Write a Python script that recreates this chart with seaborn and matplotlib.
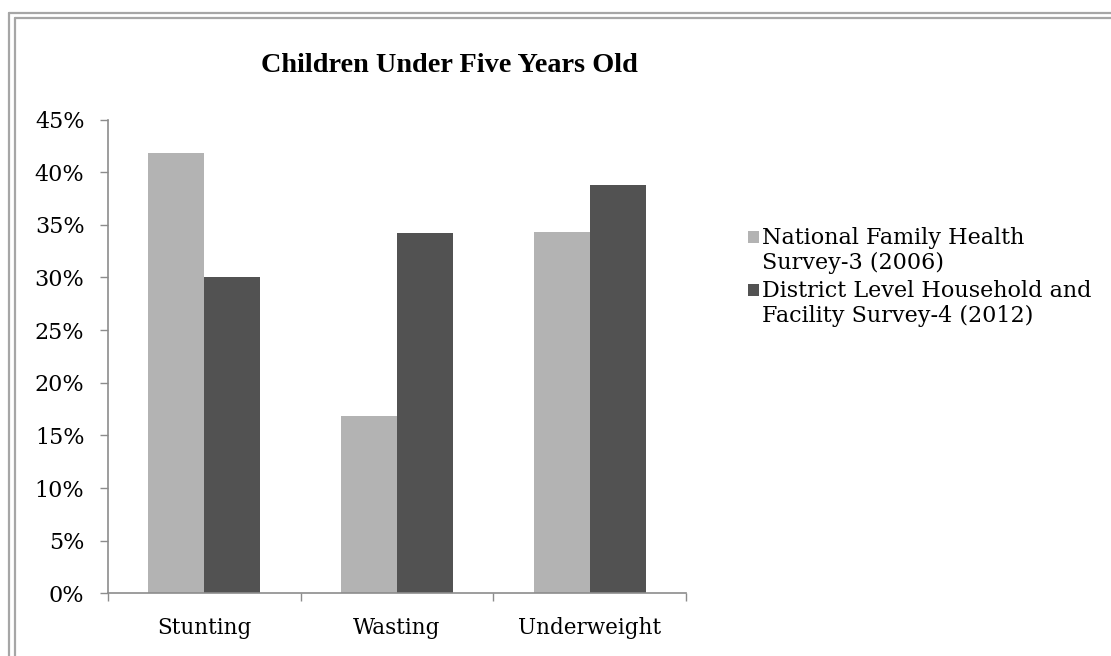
import matplotlib
matplotlib.use("Agg")
import matplotlib.pyplot as plt
import seaborn as sns
import pandas as pd
from matplotlib.patches import Rectangle
from matplotlib.lines import Line2D
from matplotlib.ticker import FuncFormatter, FixedLocator

categories = ["Stunting", "Wasting", "Underweight"]
series_names = ["National Family Health\nSurvey-3 (2006)",
                "District Level Household and\nFacility Survey-4 (2012)"]
nfhs3 = [41.8, 16.8, 34.3]
dlhs4 = [30.0, 34.2, 38.8]
y_ticks = [0, 5, 10, 15, 20, 25, 30, 35, 40, 45]
title = "Children Under Five Years Old"

light = "#b3b3b3"
dark = "#525252"
axis_grey = "#8c8c8c"
frame_grey = "#a6a6a6"

rows = []
for name, vals in zip(series_names, [nfhs3, dlhs4]):
    for c, v in zip(categories, vals):
        rows.append({"Category": c, "Value": v, "Survey": name})
df = pd.DataFrame(rows)

sns.set_theme(style="white")
plt.rcParams["font.family"] = ["DejaVu Serif"]

W, H = 1111, 656
fig = plt.figure(figsize=(W / 100, H / 100), dpi=100)
ax = fig.add_axes([108 / W, 1 - 593.3 / H, (686 - 108) / W, (593.3 - 119.5) / H])

sns.barplot(data=df, x="Category", y="Value", hue="Survey", order=categories,
            hue_order=series_names, palette=[light, dark], width=0.58,
            saturation=1, legend=False, ax=ax, linewidth=0)

ax.set_xlim(-0.5, len(categories) - 0.5)
ax.set_ylim(0, 45)
ax.yaxis.set_major_locator(FixedLocator(y_ticks))
ax.yaxis.set_major_formatter(FuncFormatter(lambda v, p: f"{int(round(v))}%"))
ax.set_xlabel("")
ax.set_ylabel("")

for s in ["top", "right"]:
    ax.spines[s].set_visible(False)
for s in ["left", "bottom"]:
    ax.spines[s].set_color(axis_grey)
    ax.spines[s].set_linewidth(1.2)

ax.tick_params(axis="y", which="major", direction="out", length=6, width=1,
               color=axis_grey, left=True, pad=11, labelsize=16, labelcolor="black")
ax.tick_params(axis="x", which="major", length=0, pad=17, labelsize=15.5,
               labelcolor="black")
ax.set_xticks(range(len(categories)))
ax.set_xticklabels(categories)
ax.xaxis.set_minor_locator(FixedLocator([i - 0.5 for i in range(len(categories) + 1)]))
ax.tick_params(axis="x", which="minor", direction="out", length=6, width=1,
               color=axis_grey, bottom=True)

# title
fig.text(449.5 / W, 1 - 65 / H, title, ha="center", va="center",
         fontsize=20.3, fontweight="bold", color="black",
         family=["Liberation Serif", "DejaVu Serif"])

# legend (manual, handle aligned with first line)
leg_x = 748
leg_ys = [237, 290]
for name, col, yy in zip(series_names, [light, dark], leg_ys):
    fig.add_artist(Rectangle((leg_x / W, 1 - (yy + 6) / H), 11 / W, 12 / H,
                             transform=fig.transFigure, facecolor=col,
                             edgecolor="none"))
    fig.text((leg_x + 14) / W, 1 - (yy - 10) / H, name, ha="left", va="top",
             fontsize=16, color="black", linespacing=1.15)

# double frame lines (top and left)
for y in [13, 18]:
    fig.add_artist(Line2D([(9 if y == 13 else 15) / W, 1], [1 - y / H, 1 - y / H],
                          transform=fig.transFigure, color=frame_grey, lw=1.6))
for x in [9, 15]:
    fig.add_artist(Line2D([x / W, x / W], [0, 1 - (13 if x == 9 else 18) / H],
                          transform=fig.transFigure, color=frame_grey, lw=1.6))

fig.savefig("out.png", dpi=100)
